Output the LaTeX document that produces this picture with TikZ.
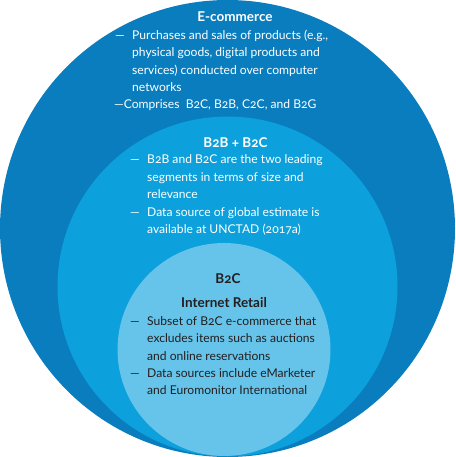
\documentclass[tikz,border=0pt]{standalone}
\usepackage{fontspec}
\setmainfont{Lato}[Numbers=OldStyle]
\definecolor{outerblue}{RGB}{10,125,190}
\definecolor{midblue}{RGB}{12,160,220}
\definecolor{innerblue}{RGB}{102,196,234}
\definecolor{darktext}{RGB}{35,31,32}
\begin{document}
\begin{tikzpicture}[x=1pt,y=-1pt,
  txt/.style={anchor=base west, inner sep=0pt, font=\fontsize{12.1}{14}\selectfont},
  head/.style={anchor=base, inner sep=0pt, font=\fontsize{13.5}{15}\selectfont\bfseries},
  wt/.style={text=white},
  dk/.style={text=darktext}]
\useasboundingbox (0,0) rectangle (455,457);
\fill[outerblue] (227.5,228.5) ellipse [x radius=227.5, y radius=228.5];
\fill[midblue] (227.5,286.5) circle [radius=170];
\fill[innerblue] (224,349.5) circle [radius=106.5];
% E-commerce
\node[head,wt] (h1) at (235,22) {E-commerce};
\node[txt,wt] (d1) at (115,40) {—};
\node[txt,wt] (e1) at (132,40) {Purchases and sales of products (e.g.,};
\node[txt,wt] (e2) at (132,57) {physical goods, digital products and};
\node[txt,wt] (e3) at (132,74.5) {services) conducted over computer};
\node[txt,wt] (e4) at (132,92) {networks};
\node[txt,wt] (e5) at (114,109) {—Comprises\ \ B2C, B2B, C2C, and B2G};
% B2B + B2C
\node[head,wt] (h2) at (235.5,147) {B2B + B2C};
\node[txt,wt] (d2) at (130,164) {—};
\node[txt,wt] (m1) at (147,164) {B2B and B2C are the two leading};
\node[txt,wt] (m2) at (147,181) {segments in terms of size and};
\node[txt,wt] (m3) at (147,198.5) {relevance};
\node[txt,wt] (d3) at (130,216) {—};
\node[txt,wt] (m4) at (147,216) {Data source of global estimate is};
\node[txt,wt] (m5) at (147,233) {available at UNCTAD (2017a)};
% B2C
\node[head,dk] (h3) at (228,283) {B2C};
\node[head,dk] (h4) at (224,307) {Internet Retail};
\node[txt,dk] (d4) at (130,325) {—};
\node[txt,dk] (i1) at (147,325) {Subset of B2C e-commerce that};
\node[txt,dk] (i2) at (147,342) {excludes items such as auctions};
\node[txt,dk] (i3) at (147,360) {and online reservations};
\node[txt,dk] (d5) at (130,377) {—};
\node[txt,dk] (i4) at (147,377) {Data sources include eMarketer};
\node[txt,dk] (i5) at (147,394) {and Euromonitor International};
\end{tikzpicture}
\end{document}
